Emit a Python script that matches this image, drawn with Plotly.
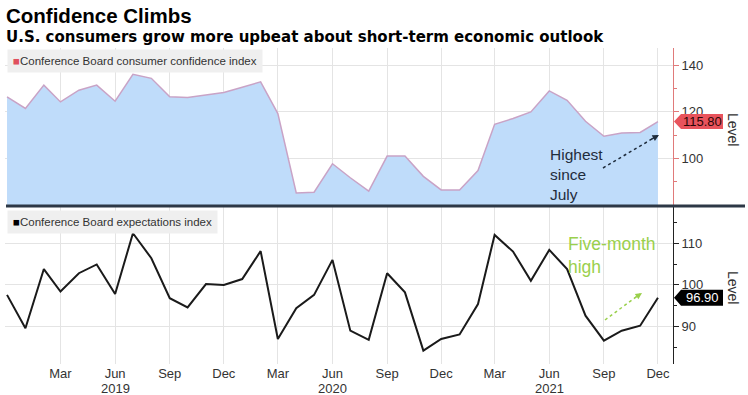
import pandas as pd
import plotly.graph_objects as go

# ---------------- data ----------------
months = pd.date_range("2018-12-01", "2021-12-01", freq="MS").strftime("%Y-%m-%d").tolist()

confidence = [126.4, 121.4, 131.4, 124.2, 129.2, 131.4, 124.5, 136.0, 134.3, 126.4, 126.1, 127.1,
              128.2, 130.5, 132.8, 119.2, 85.2, 85.5, 97.7, 91.7, 86.0, 101.0, 101.0, 92.3,
              86.5, 86.5, 94.8, 114.6, 117.1, 119.9, 128.9, 124.9, 115.9, 109.5, 110.9, 111.1,
              115.8]

expectations = [97.6, 89.6, 103.8, 98.4, 102.8, 104.9, 97.8, 112.4, 106.4, 96.8, 94.6, 100.2,
                100.0, 101.4, 108.1, 87.0, 94.4, 97.6, 106.0, 89.0, 86.8, 102.8, 98.2, 84.2,
                87.0, 88.1, 95.4, 112.0, 108.0, 101.0, 108.4, 103.8, 92.6, 86.6, 89.0, 90.2,
                96.9]

tick_dates = ["2019-03-01", "2019-06-01", "2019-09-01", "2019-12-01",
              "2020-03-01", "2020-06-01", "2020-09-01", "2020-12-01",
              "2021-03-01", "2021-06-01", "2021-09-01", "2021-12-01"]
tick_text = ["Mar", "Jun", "Sep", "Dec"] * 3
year_dates = ["2019-06-01", "2020-06-01", "2021-06-01"]
year_text = ["2019", "2020", "2021"]

top_ticks = [100, 120, 140]
top_minor = [90, 110, 130]
bot_ticks = [90, 100, 110]
bot_minor = [85, 95, 105, 115]

# ---------------- geometry helpers ----------------
W, H = 748, 395
ML, MR, MT, MB = 5, 75, 48, 31
PW, PH = W - ML - MR, H - MT - MB


def px(x):
    return (x - ML) / PW


def py(y):
    return (H - MB - y) / PH


TOP_RANGE = [79.6, 147.3]
BOT_RANGE = [81.0, 118.7]
TOP_DOM = [py(206), 1.0]
BOT_DOM = [0.0, py(207)]
X_RANGE = ["2018-11-27 14:00", "2021-12-26 08:00"]

GRID = "#e4e4e4"
TXT = "#333333"
FONT = "Liberation Sans"

fig = go.Figure()

fig.add_trace(go.Scatter(
    x=months, y=confidence, mode="lines", fill="tozeroy",
    fillcolor="#bfdcfa", line=dict(color="#c9a3c6", width=1.5),
    xaxis="x", yaxis="y", showlegend=False, hoverinfo="skip"))

fig.add_trace(go.Scatter(
    x=months, y=expectations, mode="lines",
    line=dict(color="#1a1a1a", width=2),
    xaxis="x2", yaxis="y2", showlegend=False, hoverinfo="skip"))

xcommon = dict(range=X_RANGE, type="date", tickmode="array", tickvals=tick_dates,
               ticktext=tick_text, showgrid=True, gridcolor=GRID, gridwidth=1,
               zeroline=False, showline=False, ticks="")

fig.update_layout(
    width=W, height=H,
    margin=dict(l=ML, r=MR, t=MT, b=MB),
    paper_bgcolor="white", plot_bgcolor="white",
    font=dict(family=FONT, color=TXT, size=13),
    xaxis=dict(**xcommon, anchor="y", domain=[0, 1], showticklabels=False),
    xaxis2=dict(**xcommon, anchor="y2", domain=[0, 1], matches="x", showticklabels=True,
                tickfont=dict(size=13, color=TXT, family=FONT)),
    yaxis=dict(domain=TOP_DOM, range=TOP_RANGE, side="right", anchor="x",
               tickmode="array", tickvals=top_ticks, showgrid=True, gridcolor=GRID,
               zeroline=False, showline=True, linecolor="#e07a7a", linewidth=1,
               ticks="outside", ticklen=5, tickcolor="#e07a7a",
               minor=dict(tickmode="array", tickvals=top_minor, ticks="outside",
                          ticklen=3, tickcolor="#e07a7a", showgrid=False),
               tickfont=dict(size=13, color=TXT)),
    yaxis2=dict(domain=BOT_DOM, range=BOT_RANGE, side="right", anchor="x2",
                tickmode="array", tickvals=bot_ticks, showgrid=True, gridcolor=GRID,
                zeroline=False, showline=True, linecolor="#222222", linewidth=1,
                ticks="outside", ticklen=5, tickcolor="#222222",
                minor=dict(tickmode="array", tickvals=bot_minor, ticks="outside",
                           ticklen=3, tickcolor="#222222", showgrid=False),
                tickfont=dict(size=13, color=TXT)),
)

shapes = []
# separator between panels
shapes.append(dict(type="line", xref="paper", yref="paper", x0=px(6), x1=px(745),
                   y0=py(206), y1=py(206), line=dict(color="#2d3846", width=3), layer="above"))


def callout(yref, value, half_units, fill):
    tip, left, right = px(674), px(681), px(723)
    path = (f"M {tip},{value} L {left},{value + half_units} L {right},{value + half_units} "
            f"L {right},{value - half_units} L {left},{value - half_units} Z")
    return dict(type="path", xref="paper", yref=yref, path=path,
                fillcolor=fill, line=dict(width=0), layer="above")


top_half = 7.5 * (TOP_RANGE[1] - TOP_RANGE[0]) / (PH * (TOP_DOM[1] - TOP_DOM[0]))
bot_half = 8.0 * (BOT_RANGE[1] - BOT_RANGE[0]) / (PH * (BOT_DOM[1] - BOT_DOM[0]))
shapes.append(callout("y", confidence[-1], top_half, "#e8535c"))
shapes.append(callout("y2", expectations[-1], bot_half, "#000000"))

# dotted arrows
shapes.append(dict(type="line", xref="paper", yref="paper", x0=px(603), y0=py(168),
                   x1=px(657), y1=py(136), line=dict(color="#1f2d3d", width=1.5, dash="dot")))
shapes.append(dict(type="line", xref="paper", yref="paper", x0=px(605), y0=py(320),
                   x1=px(640), y1=py(294), line=dict(color="#9ad04c", width=1.5, dash="dot")))
fig.update_layout(shapes=shapes)

ann = []
ann.append(dict(xref="paper", yref="paper", x=px(4), y=py(2), xanchor="left", yanchor="top",
                text="<b>Confidence Climbs</b>", showarrow=False,
                font=dict(size=20.5, color="#000000", family=FONT)))
ann.append(dict(xref="paper", yref="paper", x=px(4), y=py(26), xanchor="left", yanchor="top",
                text="<b>U.S. consumers grow more upbeat about short-term economic outlook</b>",
                showarrow=False, font=dict(size=15, color="#000000", family="DejaVu Sans")))

# legend boxes
ann.append(dict(xref="paper", yref="paper", x=px(7), y=py(49), xanchor="left", yanchor="top",
                text='<span style="color:#e0505e">■</span>Conference Board consumer confidence index',
                showarrow=False, bgcolor="#efefef", borderpad=5,
                font=dict(size=11.5, color=TXT, family=FONT)))
ann.append(dict(xref="paper", yref="paper", x=px(7), y=py(210), xanchor="left", yanchor="top",
                text='<span style="color:#000000">■</span>Conference Board expectations index',
                showarrow=False, bgcolor="#efefef", borderpad=5,
                font=dict(size=11.5, color=TXT, family=FONT)))

# callout texts
ann.append(dict(xref="paper", yref="y", x=px(702), y=confidence[-1], xanchor="center",
                yanchor="middle", text=f"{confidence[-1]:.2f}", showarrow=False,
                font=dict(size=13, color="#2a0606", family=FONT)))
ann.append(dict(xref="paper", yref="y2", x=px(702), y=expectations[-1], xanchor="center",
                yanchor="middle", text=f"{expectations[-1]:.2f}", showarrow=False,
                font=dict(size=13, color="#ffffff", family=FONT)))

# axis titles
for yy in (129, 287):
    ann.append(dict(xref="paper", yref="paper", x=px(733), y=py(yy), xanchor="center",
                    yanchor="middle", text="Level", textangle=90, showarrow=False,
                    font=dict(size=14, color=TXT, family=FONT)))

# year labels under the x axis
for d, t in zip(year_dates, year_text):
    ann.append(dict(xref="x2", yref="paper", x=d, y=py(388), xanchor="center",
                    yanchor="middle", text=t, showarrow=False,
                    font=dict(size=13, color=TXT, family=FONT)))

# text notes
ann.append(dict(xref="paper", yref="paper", x=px(548), y=py(144), xanchor="left", yanchor="top",
                text="Highest<br>since<br>July", align="left", showarrow=False,
                font=dict(size=15.5, color="#1f2d3d", family=FONT)))
ann.append(dict(xref="paper", yref="paper", x=px(566), y=py(232), xanchor="left", yanchor="top",
                text="Five-month<br>high", align="left", showarrow=False,
                font=dict(size=17.5, color="#9ad04c", family=FONT)))

# arrowheads
ann.append(dict(xref="paper", yref="paper", x=px(659), y=py(135), ax=-9, ay=5,
                text="", showarrow=True, arrowhead=2, arrowsize=1, arrowwidth=1.3,
                arrowcolor="#1f2d3d"))
ann.append(dict(xref="paper", yref="paper", x=px(642), y=py(293), ax=-9, ay=6,
                text="", showarrow=True, arrowhead=2, arrowsize=1, arrowwidth=1.3,
                arrowcolor="#9ad04c"))

fig.update_layout(annotations=ann)

fig.write_html("out.html", config={"displayModeBar": False},
               post_script="document.body.style.margin='0';")
